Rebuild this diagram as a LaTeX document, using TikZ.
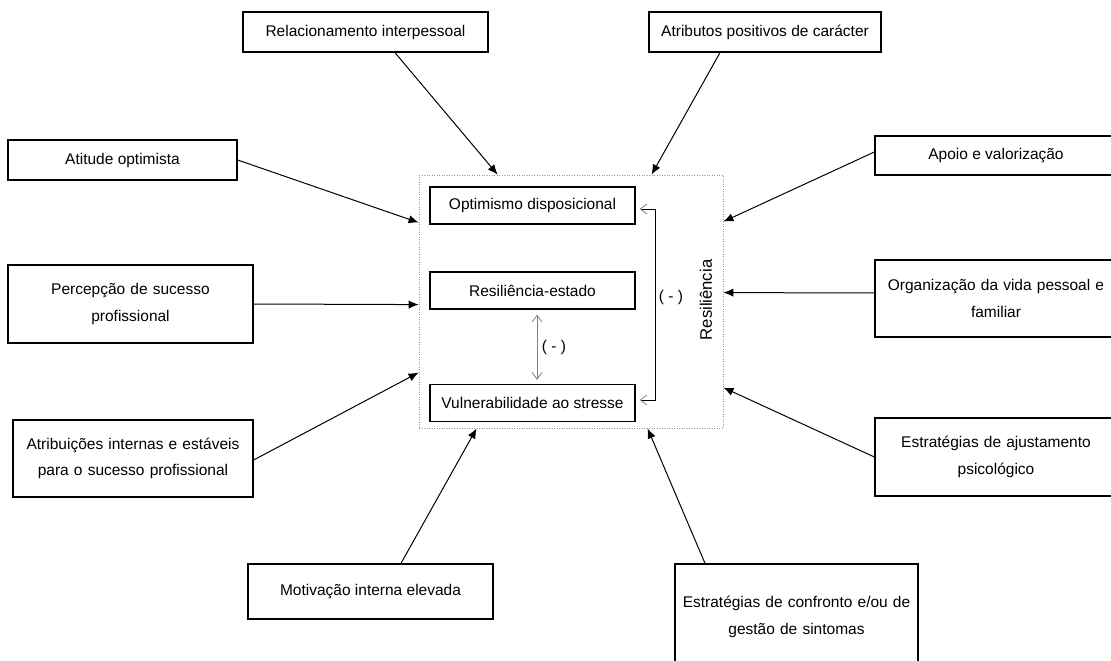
\documentclass[tikz,border=0pt]{standalone}
\usepackage{fontspec}
\setmainfont{Liberation Sans}
\usetikzlibrary{positioning,calc,arrows.meta}
\tikzset{factor/.style={draw,line width=0.8pt,align=center,inner sep=2pt,font=\fontsize{9.3}{16}\selectfont},
	inbox/.style={draw,line width=0.8pt,minimum width=123pt,minimum height=22.2pt,inner sep=0pt,font=\fontsize{9.3}{11}\selectfont},
	infl/.style={-{Latex[length=6pt,width=5pt]},line width=0.6pt},
	neg/.style={{Straight Barb[length=4pt,width=6pt]}-{Straight Barb[length=4pt,width=6pt]},gray,line width=0.5pt}}
\definecolor{FrameGray}{RGB}{150,150,150}

\begin{document}
\begin{tikzpicture}[x=0.6pt,y=-0.6pt]
	\useasboundingbox (0,0) rectangle (1111,661);
	\clip (0,0) rectangle (1111,661);
	% central frame
	\node[draw=FrameGray,densely dotted,line width=0.5pt,minimum width=182.4pt,minimum height=151.8pt,inner sep=0pt] (res) at (571,301.5) {};
	\node[inbox] (opt) at (532.5,205.5) {Optimismo disposicional};
	\node[inbox] (est) at (532.5,290.5) {Resiliência-estado};
	\node[inbox] (vuln) at (532.5,403) {Vulnerabilidade ao stresse};
	\node[rotate=90,font=\fontsize{10}{12}\selectfont] (reslbl) at (706,300) {Resiliência};
	\draw[neg] ($(est.south)+(4.5,5)$) -- ($(vuln.north)+(4.5,-4)$);
	\node[font=\fontsize{9.3}{11}\selectfont] (neg1) at (554,347) {( - )};
	\draw[neg,draw=black,{Straight Barb[length=4pt,width=6pt,color=gray]}-{Straight Barb[length=4pt,width=6pt,color=gray]}] ($(opt.east)+(4,3.5)$) -- ++(16,0) |- ($(vuln.east)+(4,-3)$);
	\node[font=\fontsize{9.3}{11}\selectfont] (neg2) at (671,297) {( - )};
	% factors
	\node[factor,minimum width=147pt,minimum height=24pt] (relac) at (365.5,32) {Relacionamento interpessoal};
	\node[factor,minimum width=139.2pt,minimum height=24pt] (atrib) at (765,32) {Atributos positivos de carácter};
	\node[factor,minimum width=137.4pt,minimum height=24pt] (atit) at (122.5,160) {Atitude optimista};
	\node[factor,minimum width=145.2pt,minimum height=23.4pt] (apoio) at (996,155.5) {Apoio e valorização};
	\node[factor,minimum width=147pt,minimum height=46.8pt,text width=140pt] (percep) at (130.5,304) {Percepção de sucesso\\profissional};
	\node[factor,minimum width=145.2pt,minimum height=46.2pt,text width=140pt] (organ) at (996,298.5) {Organização da vida pessoal e\\familiar};
	\node[factor,minimum width=144pt,minimum height=46.2pt,text width=140pt] (atribuic) at (133,458.5) {Atribuições internas e estáveis\\para o sucesso profissional};
	\node[factor,minimum width=145.2pt,minimum height=46.8pt,text width=140pt] (ajust) at (996,457) {Estratégias de ajustamento\\psicológico};
	\node[factor,minimum width=147pt,minimum height=33pt] (motiv) at (370.5,591.5) {Motivação interna elevada};
	\node[factor,minimum width=145.8pt,minimum height=63.6pt,text width=140pt] (confr) at (796.5,617) {Estratégias de confronto e/ou de\\gestão de sintomas};
	% influences
	\draw[infl] ($(relac.south)+(29.5,0)$) -- ($(res.north west)+(79,0)$);
	\draw[infl] ($(atrib.south)+(-45,0)$) -- ($(res.north west)+(233,0)$);
	\draw[infl] (atit.east) -- ($(res.north west)+(0,48)$);
	\draw[infl] ($(apoio.west)+(0,-3.5)$) -- ($(res.north east)+(0,47)$);
	\draw[infl] (percep.east) -- ($(res.north west)+(0,130)$);
	\draw[infl] ($(organ.west)+(0,-5.5)$) -- ($(res.north east)+(0,118)$);
	\draw[infl] ($(atribuic.east)+(0,1.5)$) -- ($(res.north west)+(0,198)$);
	\draw[infl] (ajust.west) -- ($(res.north east)+(0,213)$);
	\draw[infl] ($(motiv.north)+(30.5,0)$) -- ($(res.south west)+(58,0)$);
	\draw[infl] ($(confr.north)+(-91.5,0)$) -- ($(res.south west)+(229,0)$);
\end{tikzpicture}
\end{document}
